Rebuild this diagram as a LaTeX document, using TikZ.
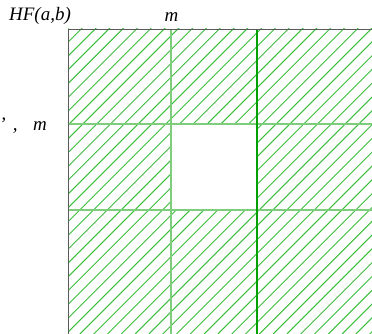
\documentclass[tikz,border=0pt]{standalone}
\usepackage{fontspec}
\setmainfont{Liberation Serif}
\definecolor{hatchgreen}{RGB}{60,190,60}
\definecolor{gridgreen}{RGB}{125,205,125}
\definecolor{darkgreen}{RGB}{0,160,0}
\definecolor{edgegray}{RGB}{90,90,90}
\tikzset{
  hatch/.style={hatchgreen,line width=0.7pt},
  gridline/.style={gridgreen,line width=1.1pt},
  lbl/.style={font=\fontsize{13.5}{16}\selectfont\itshape,inner sep=0pt}
}

\begin{document}
\begin{tikzpicture}
  \useasboundingbox (0,0) rectangle (9.3,8.35);
  \coordinate (TL) at (1.7,7.625);
  \coordinate (BR) at (9.3,0);
  \coordinate (C1) at (4.275,5.25);
  \coordinate (C2) at (6.425,3.1);
  \begin{scope}
    \clip (1.7,0) rectangle (9.3,7.625);
    \foreach \k in {-2,...,45}
      \draw[hatch] ({-5.5925+0.345*\k},0) -- ({8-5.5925+0.345*\k},8);
  \end{scope}
  \fill[white] (C1) rectangle (C2);
  \draw[gridline] (1.7,5.25) -- (9.3,5.25);
  \draw[gridline] (1.7,3.1) -- (9.3,3.1);
  \draw[gridline] (4.275,7.625) -- (4.275,0);
  \draw[darkgreen,line width=0.8pt] (6.425,7.625) -- (6.425,0);
  \draw[edgegray,line width=0.7pt] (9.3,7.625) -- (TL) -- (1.7,0);
  \node[lbl] (hf) at (1.0,7.95) {HF(a,b)};
  \node[lbl] (mtop) at (4.29,7.93) {m};
  \node[lbl,anchor=base west] (mleft) at (-0.02,5.075) {’\hspace{5pt},\hspace{11pt}m};
\end{tikzpicture}
\end{document}
